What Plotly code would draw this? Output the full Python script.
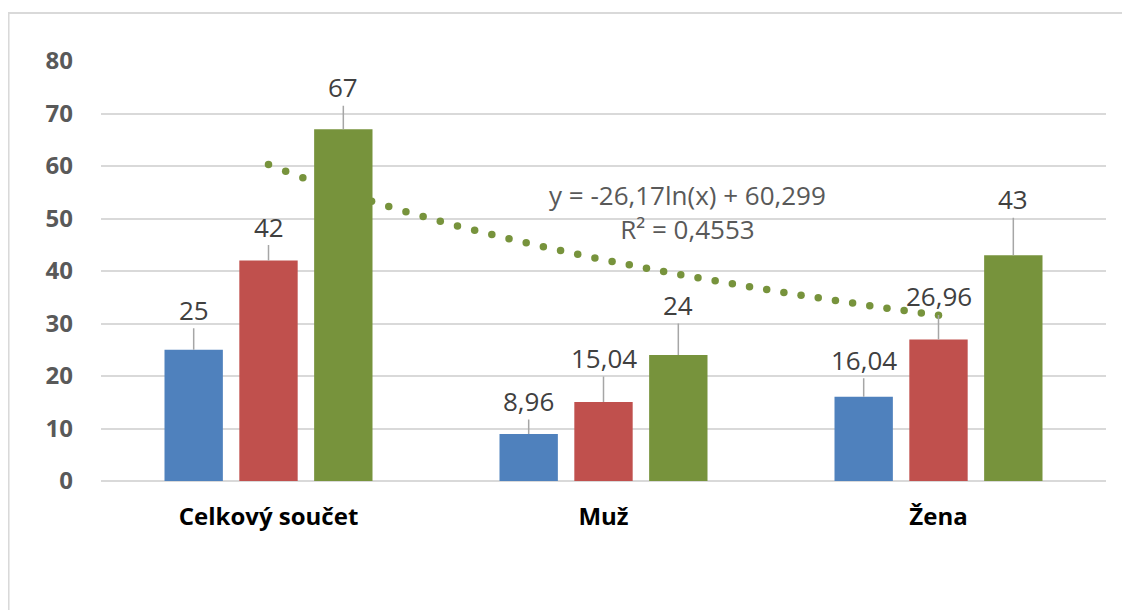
import numpy as np
import plotly.graph_objects as go

# ---- data ----
categories = ["Celkový součet", "Muž", "Žena"]
series_blue = [25, 8.96, 16.04]
series_red = [42, 15.04, 26.96]
series_green = [67, 24, 43]
y_tick_vals = [0, 10, 20, 30, 40, 50, 60, 70, 80]
trend_coef = -26.17
trend_const = 60.299
trend_r2 = "0,4553"

# ---- styling ----
colors = ["#4F81BD", "#C0504D", "#77933C"]
label_offsets = [[-40, -33, -37], [-34, -44, -43], [-42, -50, -56]]  # px above bar top
BARGAP = 0.33
BARGROUPGAP = 0.22
grid_col = "#D9D9D9"
font_fam = "Open Sans, Liberation Sans, sans-serif"

all_series = [series_blue, series_red, series_green]
xpos = list(range(len(categories)))

fig = go.Figure()

# trendline (Excel log trendline, x = 1..n) drawn underneath bars
tx = np.linspace(0, len(categories) - 1, 40)
ty = trend_coef * np.log(tx + 1) + trend_const
fig.add_trace(go.Scatter(x=tx, y=ty, mode="markers",
                         marker=dict(color=colors[2], size=7.5),
                         xaxis="x", yaxis="y", hoverinfo="skip", showlegend=False))

for s, vals in enumerate(all_series):
    fig.add_trace(go.Bar(x=xpos, y=vals, marker=dict(color=colors[s], line=dict(width=0)),
                         xaxis="x2", yaxis="y2", showlegend=False))

def fmt(v):
    return f"{v:g}".replace(".", ",")

slot = (1 - BARGAP) / len(all_series)
annotations = []
for s, vals in enumerate(all_series):
    for i, v in enumerate(vals):
        annotations.append(dict(
            x=i + (s - 1) * slot, y=v, xref="x2", yref="y2",
            text=fmt(v), showarrow=True, arrowhead=0, arrowwidth=1.5,
            arrowcolor="#A6A6A6", ax=0, ay=label_offsets[s][i], standoff=0,
            font=dict(family=font_fam, size=26, color="#404040"),
            borderpad=0))

annotations.append(dict(
    x=1.25, y=51.3, xref="x", yref="y", showarrow=False,
    text=f"y = {fmt(trend_coef)}ln(x) + {fmt(trend_const)}<br>R² = {trend_r2}",
    font=dict(family=font_fam, size=26, color="#595959")))

fig.update_layout(
    width=1122, height=602,
    margin=dict(l=93, r=24, t=53, b=129),
    paper_bgcolor="white", plot_bgcolor="white",
    barmode="group", bargap=BARGAP, bargroupgap=BARGROUPGAP,
    xaxis=dict(range=[-0.5, len(categories) - 0.5], tickvals=xpos, ticktext=categories,
               showgrid=False, zeroline=False, showline=False, ticks="",
               tickfont=dict(family=font_fam, size=24, color="#000000", weight="bold"),
               ticklabelstandoff=19),
    yaxis=dict(range=[0, 80], tickvals=y_tick_vals, showgrid=True, gridcolor=grid_col,
               gridwidth=1.5, zeroline=True, zerolinecolor=grid_col, zerolinewidth=2,
               showline=False, ticks="",
               tickfont=dict(family=font_fam, size=24, color="#595959", weight="bold"),
               ticklabelstandoff=27),
    xaxis2=dict(range=[-0.5, len(categories) - 0.5], overlaying="x", visible=False),
    yaxis2=dict(range=[0, 80], overlaying="y", visible=False),
    annotations=annotations,
    shapes=[dict(type="rect", xref="paper", yref="paper",
                 x0=-0.092, x1=1.06, y0=-0.35, y1=1.114,
                 line=dict(color=grid_col, width=2), layer="below")],
)

fig.write_html("out.html")
